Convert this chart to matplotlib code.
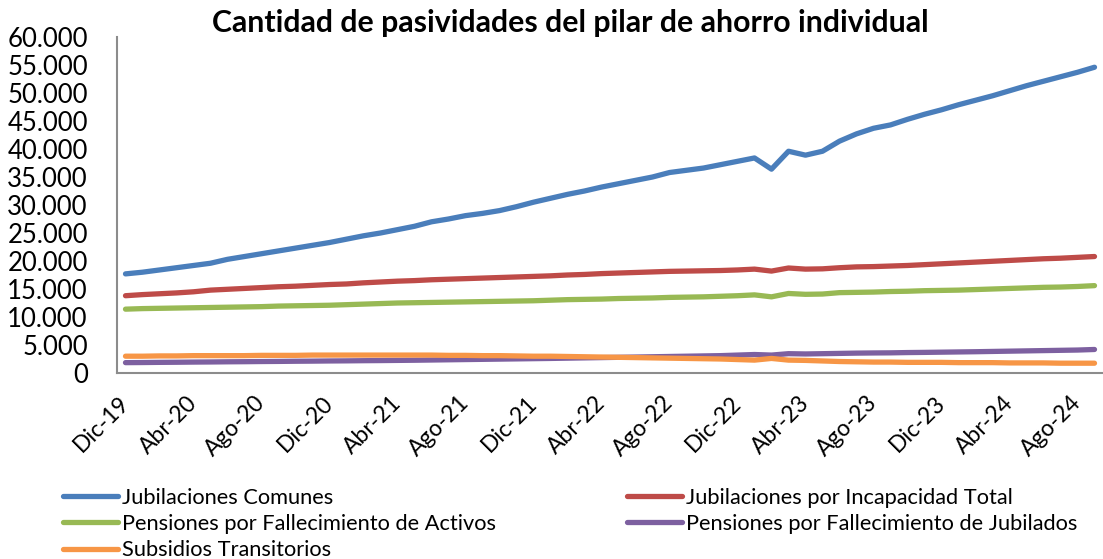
import matplotlib
matplotlib.use("Agg")
import matplotlib.pyplot as plt
from matplotlib.ticker import FuncFormatter
from matplotlib.transforms import ScaledTranslation

meses = ["Ene", "Feb", "Mar", "Abr", "May", "Jun", "Jul", "Ago", "Set", "Oct", "Nov", "Dic"]
categorias = ["Dic-19"] + [f"{m}-{y}" for y in range(20, 25) for m in meses][:57]

jub_comunes = [17700, 18000, 18400, 18800, 19200, 19600, 20300, 20800, 21300, 21800,
               22300, 22800, 23300, 23900, 24500, 25000, 25600, 26200, 27000, 27500,
               28100, 28500, 29000, 29700, 30500, 31200, 31900, 32500, 33200, 33800,
               34400, 35000, 35800, 36200, 36600, 37200, 37800, 38400, 36400, 39600,
               38900, 39600, 41400, 42700, 43700, 44300, 45300, 46200, 47000, 47900,
               48700, 49500, 50400, 51300, 52100, 52900, 53700, 54600]
jub_incapacidad = [13800, 14000, 14150, 14300, 14500, 14800, 14950, 15100, 15250, 15400,
                   15500, 15650, 15800, 15900, 16100, 16250, 16400, 16500, 16650, 16750,
                   16850, 16950, 17050, 17150, 17250, 17350, 17500, 17600, 17750, 17850,
                   17950, 18050, 18150, 18200, 18250, 18300, 18400, 18550, 18200, 18750,
                   18550, 18600, 18800, 18950, 19000, 19100, 19200, 19350, 19500, 19650,
                   19800, 19950, 20100, 20250, 20400, 20500, 20650, 20800]
pens_activos = [11400, 11500, 11550, 11600, 11650, 11700, 11750, 11800, 11850, 11950,
                12000, 12050, 12100, 12200, 12300, 12400, 12500, 12550, 12600, 12650,
                12700, 12750, 12800, 12850, 12900, 13000, 13100, 13150, 13200, 13300,
                13350, 13400, 13500, 13550, 13600, 13700, 13800, 13950, 13600, 14200,
                14050, 14100, 14350, 14400, 14450, 14550, 14600, 14700, 14750, 14800,
                14900, 15000, 15100, 15200, 15300, 15350, 15450, 15600]
pens_jubilados = [1850, 1870, 1900, 1920, 1950, 1970, 2000, 2020, 2050, 2070,
                  2100, 2120, 2150, 2170, 2200, 2220, 2250, 2280, 2320, 2360,
                  2400, 2440, 2480, 2520, 2560, 2600, 2650, 2700, 2750, 2800,
                  2850, 2900, 2950, 3000, 3050, 3100, 3200, 3300, 3200, 3450,
                  3400, 3450, 3500, 3550, 3580, 3600, 3650, 3680, 3720, 3760,
                  3800, 3850, 3900, 3950, 4000, 4050, 4100, 4200]
subsidios = [3000, 3000, 3050, 3050, 3100, 3100, 3100, 3100, 3150, 3150,
             3150, 3200, 3200, 3200, 3200, 3200, 3200, 3200, 3200, 3150,
             3150, 3100, 3100, 3050, 3000, 3000, 2950, 2900, 2850, 2800,
             2750, 2700, 2650, 2600, 2550, 2500, 2400, 2300, 2600, 2300,
             2250, 2150, 2050, 2000, 1950, 1950, 1900, 1900, 1900, 1850,
             1850, 1850, 1800, 1800, 1800, 1750, 1750, 1750]

series = [
    ("Jubilaciones Comunes", jub_comunes, "#4A7EBB"),
    ("Jubilaciones por Incapacidad Total", jub_incapacidad, "#BE4B48"),
    ("Pensiones por Fallecimiento de Activos", pens_activos, "#98B954"),
    ("Pensiones por Fallecimiento de Jubilados", pens_jubilados, "#7D60A0"),
    ("Subsidios Transitorios", subsidios, "#F79646"),
]

plt.rcParams['font.family'] = ['Lato', 'DejaVu Sans']

fig = plt.figure(figsize=(11.03, 5.59), dpi=100)
ax = fig.add_axes([117/1103, 1 - 373/559, (1103 - 117)/1103, (373 - 37)/559])

x = list(range(len(categorias)))
handles = {}
for name, vals, col in series:
    h, = ax.plot(x, vals, color=col, lw=3.8, solid_capstyle='round', solid_joinstyle='round', label=name)
    handles[name] = h

ax.set_xlim(-0.5, len(categorias) - 0.5)
ax.set_ylim(0, 60000)
ax.set_yticks(range(0, 60001, 5000))
ax.yaxis.set_major_formatter(FuncFormatter(lambda v, p: f"{int(v):,}".replace(",", ".")))
tick_idx = list(range(0, len(categorias), 4))
ax.set_xticks(tick_idx)
ax.set_xticklabels([categorias[i] for i in tick_idx], rotation=45, ha='right', va='center',
                   rotation_mode='anchor', fontsize=16.5)
offset = ScaledTranslation(8/100, 0, fig.dpi_scale_trans)
for lab in ax.get_xticklabels():
    lab.set_transform(lab.get_transform() + offset)
ax.tick_params(axis='x', length=0, pad=19)
ax.tick_params(axis='y', length=0, pad=21, labelsize=18.5)
for s in ['top', 'right']:
    ax.spines[s].set_visible(False)
for s in ['left', 'bottom']:
    ax.spines[s].set_color('#8C8C8C')
    ax.spines[s].set_linewidth(1.5)

fig.text(570/1103, 1 - 23/559, "Cantidad de pasividades del pilar de ahorro individual",
         ha='center', va='center', fontsize=21.8, fontweight='bold')

order = ["Jubilaciones Comunes", "Pensiones por Fallecimiento de Activos", "Subsidios Transitorios",
         "Jubilaciones por Incapacidad Total", "Pensiones por Fallecimiento de Jubilados"]
leg = fig.legend([handles[n] for n in order], order, ncol=2, loc='upper left',
                 bbox_to_anchor=(63/1103, 1 - 488/559), frameon=False, fontsize=15.7,
                 handlelength=2.5, handletextpad=0.22, columnspacing=6.0,
                 labelspacing=0.28, borderaxespad=0, borderpad=0)

fig.savefig("out.png", dpi=100)
